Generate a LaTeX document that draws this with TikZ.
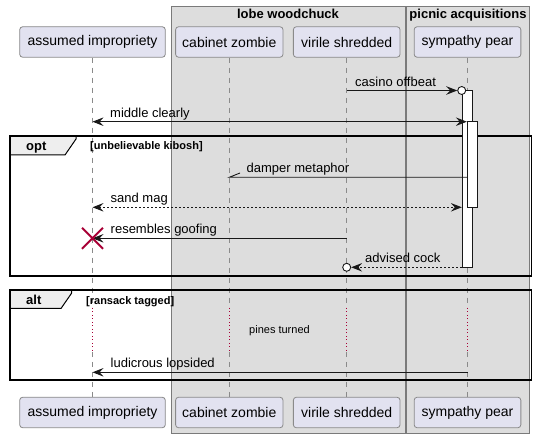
\documentclass[tikz,border=0pt]{standalone}
\usepackage{fontspec}
\setmainfont{Liberation Sans}
\usetikzlibrary{arrows.meta,shapes.misc}
\definecolor{grpfill}{HTML}{DDDDDD}
\definecolor{grpline}{HTML}{7A7A7A}
\definecolor{partfill}{HTML}{E2E2F0}
\definecolor{partline}{HTML}{8A8A8A}
\definecolor{lifecol}{HTML}{8A8A8A}
\definecolor{ink}{HTML}{181818}
\definecolor{umlred}{HTML}{A80036}
\definecolor{tabfill}{HTML}{EEEEEE}
\tikzset{
  part/.style={draw=partline,fill=partfill,line width=0.8pt,rounded corners=3pt,
    minimum height=30.5pt,inner sep=0pt,font=\fontsize{14}{16}\selectfont,text=black},
  grp/.style={draw=grpline,fill=grpfill,line width=0.8pt},
  grptitle/.style={font=\bfseries\fontsize{13}{15}\selectfont,inner sep=0pt,anchor=base},
  life/.style={draw=lifecol,line width=0.8pt,dash pattern=on 5pt off 5pt},
  delayline/.style={draw=umlred,line width=0.8pt,dash pattern=on 1pt off 2.5pt},
  actbar/.style={draw=ink,fill=white,line width=0.9pt,minimum width=10pt,inner sep=0pt},
  msg/.style={draw=ink,line width=0.9pt},
  dsh/.style={dash pattern=on 2pt off 2pt},
  tip/.tip={Stealth[length=11pt,width=8.5pt,inset=4pt]},
  lbl/.style={font=\fontsize{13}{15}\selectfont,inner sep=0pt,anchor=base west,text=black},
  frame/.style={draw=black,line width=1.5pt},
  tabtxt/.style={font=\bfseries\fontsize{13}{15}\selectfont,inner sep=0pt,anchor=base west},
  condtxt/.style={font=\bfseries\fontsize{11}{13}\selectfont,inner sep=0pt,anchor=base west},
  endcirc/.style={circle,draw=ink,fill=white,line width=0.9pt,minimum size=8pt,inner sep=0pt},
  destroyx/.style={cross out,draw=umlred,line width=2pt,minimum size=19pt,inner sep=0pt}
}
\begin{document}
\begin{tikzpicture}[x=1pt,y=-1pt]
\useasboundingbox[fill=white] (0,0) rectangle (536,438);
% groups
\draw[grp] (171.3,6.7) rectangle (405,433);
\draw[grp] (406.7,6.7) rectangle (529.3,433);
\node[grptitle] (g1) at (288,18.5) {lobe woodchuck};
\node[grptitle] (g2) at (468,18.5) {picnic acquisitions};
% participants
\node[part,minimum width=145.6pt] (A) at (92.5,42) {assumed impropriety};
\node[part,minimum width=107.4pt] (C) at (229.3,42) {cabinet zombie};
\node[part,minimum width=106.7pt] (V) at (346.7,42) {virile shredded};
\node[part,minimum width=106.7pt] (S) at (467.5,42) {sympathy pear};
\node[part,minimum width=145.6pt] (Ab) at (92.5,412.5) {assumed impropriety};
\node[part,minimum width=107.4pt] (Cb) at (229.3,412.5) {cabinet zombie};
\node[part,minimum width=106.7pt] (Vb) at (346.7,412.5) {virile shredded};
\node[part,minimum width=106.7pt] (Sb) at (467.5,412.5) {sympathy pear};
% rows
\coordinate (d1) at (0,308);
\coordinate (d2) at (0,352);
\coordinate (m1) at (0,90.5);
\coordinate (m2) at (0,121.7);
\coordinate (m3) at (0,177.3);
\coordinate (m4) at (0,207.3);
\coordinate (m5) at (0,238.3);
\coordinate (m6) at (0,267.3);
\coordinate (m7) at (0,372.3);
% lifelines
\foreach \p in {A,C,V,S}{
  \draw[life] (\p.south) -- (\p.south |- d1);
  \draw[delayline] (\p.south |- d1) -- (\p.south |- d2);
  \draw[life] (\p.south |- d2) -- (\p b.north);
}
% frames
\draw[frame] (10,136) rectangle (531.7,276);
\draw[frame,fill=tabfill,line width=1pt] (10,136) -- (76,136) -- (76,139) -- (65,155) -- (10,155) -- cycle;
\draw[frame] (10,136) rectangle (531.7,276);
\node[tabtxt] (optl) at (26,151) {opt};
\node[condtxt] (optc) at (90,150) {[unbelievable kibosh]};
\draw[frame] (10,290) rectangle (531.7,380);
\draw[frame,fill=tabfill,line width=1pt] (10,290) -- (71.7,290) -- (71.7,293) -- (61,308.5) -- (10,308.5) -- cycle;
\draw[frame] (10,290) rectangle (531.7,380);
\node[tabtxt] (altl) at (26,305) {alt};
\node[condtxt] (altc) at (86,304.5) {[ransack tagged]};
\node[font=\fontsize{11}{13}\selectfont,inner sep=0pt] (delay) at (279.5,330.5) {pines turned};
% activation bars
\node[actbar,minimum height=177.2pt] (act1) at (467.3,179.1) {};
\node[actbar,minimum height=85.6pt] (act2) at (472.3,164.5) {};
% messages
\node[endcirc] (c1) at (461.7,90.5) {};
\draw[msg,-tip] (V |- m1) -- (c1.west);
\node[lbl] (l1) at (355,86.5) {casino offbeat};
\draw[msg,tip-tip] (A |- m2) -- (act2.west |- m2);
\node[lbl] (l2) at (110,117.5) {middle clearly};
\draw[msg] (act2.west |- m3) -- (C |- m3) -- ++(10.7,-4.3);
\node[lbl] (l3) at (246.5,173) {damper metaphor};
\draw[msg,dsh,tip-tip] (A |- m4) -- (act1.west |- m4);
\node[lbl] (l4) at (110.5,203) {sand mag};
\draw[msg,-tip] (V |- m5) -- (A |- m5);
\node[destroyx] (x1) at (A |- m5) {};
\node[lbl] (l5) at (110.5,234) {resembles goofing};
\node[endcirc] (c2) at (V |- m6) {};
\draw[msg,dsh,-tip] (act1.west |- m6) -- (c2.east);
\node[lbl] (l6) at (365,263) {advised cock};
\draw[msg,-tip] (S |- m7) -- (A |- m7);
\node[lbl] (l7) at (110.5,368) {ludicrous lopsided};
\end{tikzpicture}
\end{document}
